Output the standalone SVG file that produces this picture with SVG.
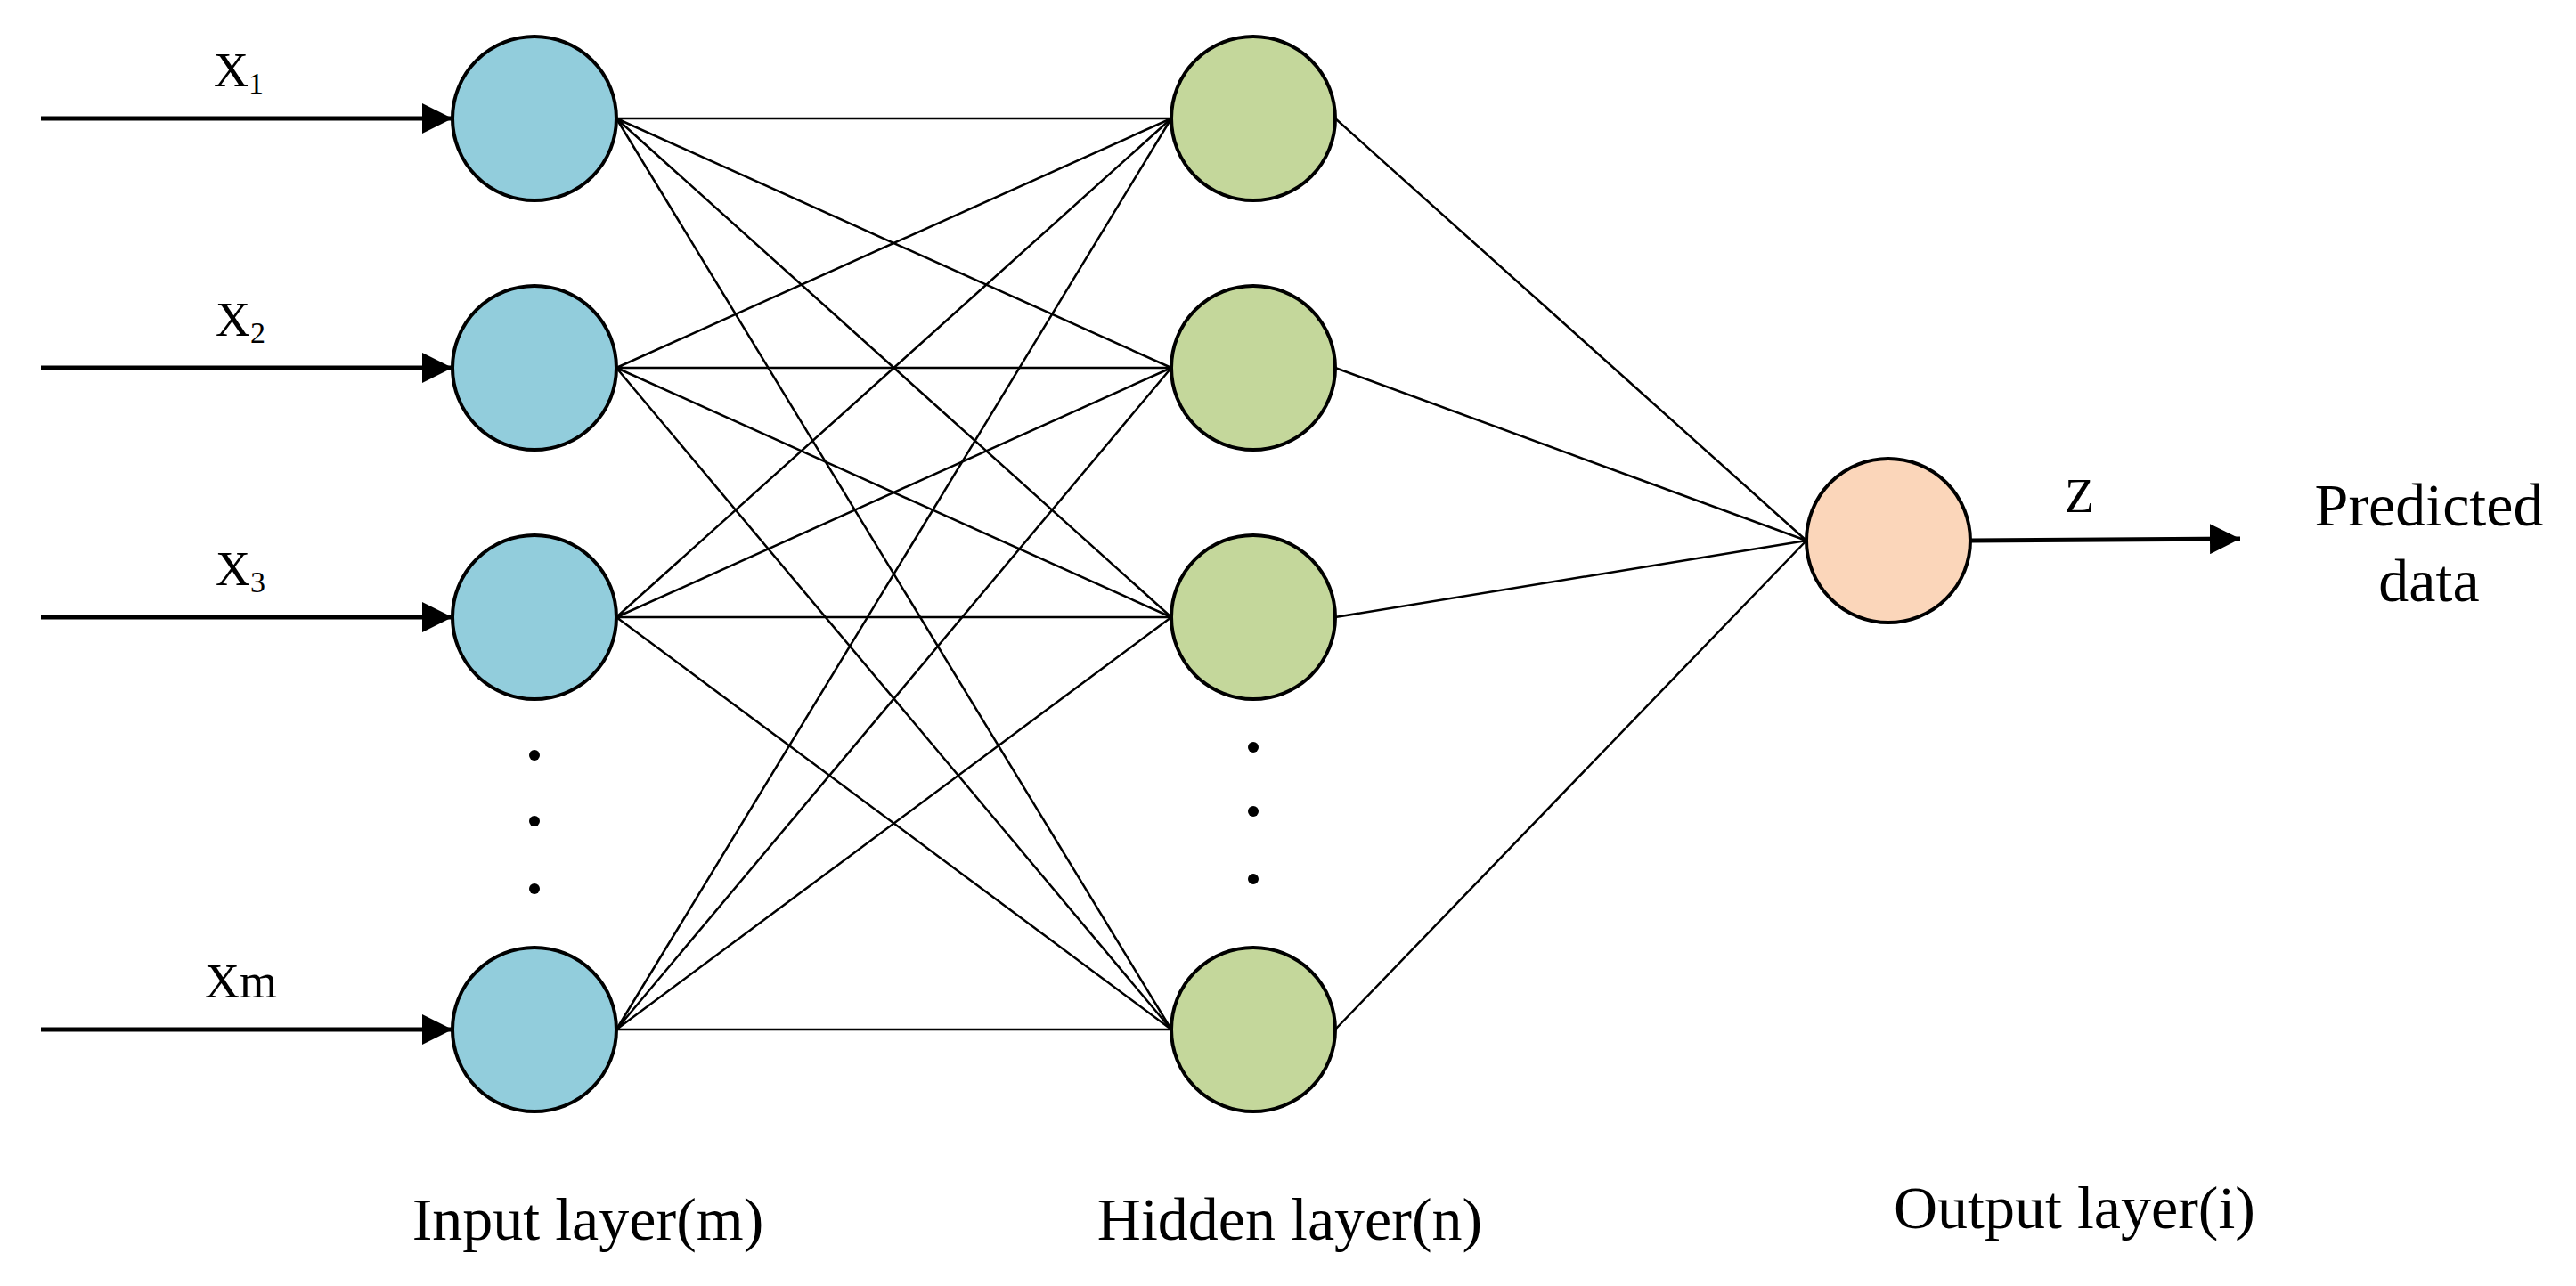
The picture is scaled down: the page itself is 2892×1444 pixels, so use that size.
<svg xmlns="http://www.w3.org/2000/svg" width="2892" height="1444" viewBox="0 0 2892 1444">
<style>
.n{stroke:#000;stroke-width:4}
.in{fill:#92CDDC}.hd{fill:#C4D79B}.out{fill:#FBD6BA}
.e{stroke:#000;stroke-width:2.5;fill:none}
.a{stroke:#000;stroke-width:5;fill:none;marker-end:url(#ar)}
text{font-family:"Liberation Serif","Times New Roman",serif;fill:#000}
.lb{font-size:54px}.sb{font-size:34px}.big{font-size:68px;text-anchor:middle}
</style>
<defs><marker id="ar" markerUnits="userSpaceOnUse" markerWidth="36" markerHeight="34" refX="34" refY="17" orient="auto"><path d="M0,0L34,17L0,34Z" fill="#000"/></marker></defs>
<rect width="2892" height="1444" fill="#fff"/>
<g id="connectors">
<g class="e">
<path d="M692,133L1315,133M692,133L1315,413M692,133L1315,693M692,133L1315,1156"/>
<path d="M692,413L1315,133M692,413L1315,413M692,413L1315,693M692,413L1315,1156"/>
<path d="M692,693L1315,133M692,693L1315,413M692,693L1315,693M692,693L1315,1156"/>
<path d="M692,1156L1315,133M692,1156L1315,413M692,1156L1315,693M692,1156L1315,1156"/>
<path d="M1499,133L2028,607M1499,413L2028,607M1499,693L2028,607M1499,1156L2028,607"/>
</g>
<path class="a" d="M46,133L508,133"/>
<path class="a" d="M46,413L508,413"/>
<path class="a" d="M46,693L508,693"/>
<path class="a" d="M46,1156L508,1156"/>
<path class="a" d="M2212,607L2515,605"/>
</g>
<g id="in1"><circle class="n in" cx="600" cy="133" r="92"/><text class="lb" x="240" y="97">X<tspan class="sb" dy="8">1</tspan></text></g>
<g id="in2"><circle class="n in" cx="600" cy="413" r="92"/><text class="lb" x="242" y="377">X<tspan class="sb" dy="8">2</tspan></text></g>
<g id="in3"><circle class="n in" cx="600" cy="693" r="92"/><text class="lb" x="242" y="657">X<tspan class="sb" dy="8">3</tspan></text></g>
<g id="inm"><circle class="n in" cx="600" cy="1156" r="92"/><text class="lb" x="230" y="1120">Xm</text></g>
<g id="indots"><circle cx="600" cy="848" r="6"/><circle cx="600" cy="922" r="6"/><circle cx="600" cy="998" r="6"/></g>
<g id="h1"><circle class="n hd" cx="1407" cy="133" r="92"/></g>
<g id="h2"><circle class="n hd" cx="1407" cy="413" r="92"/></g>
<g id="h3"><circle class="n hd" cx="1407" cy="693" r="92"/></g>
<g id="hn"><circle class="n hd" cx="1407" cy="1156" r="92"/></g>
<g id="hdots"><circle cx="1407" cy="839" r="6"/><circle cx="1407" cy="911" r="6"/><circle cx="1407" cy="987" r="6"/></g>
<g id="out"><circle class="n out" cx="2120" cy="607" r="92"/><text class="lb" x="2318" y="575">Z</text></g>
<g id="pred"><text class="big" x="2727" y="590">Predicted</text><text class="big" x="2727" y="675">data</text></g>
<g id="labels">
<text class="big" x="660" y="1392">Input layer(m)</text>
<text class="big" x="1448" y="1392">Hidden layer(n)</text>
<text class="big" x="2329" y="1379">Output layer(i)</text>
</g>
</svg>
